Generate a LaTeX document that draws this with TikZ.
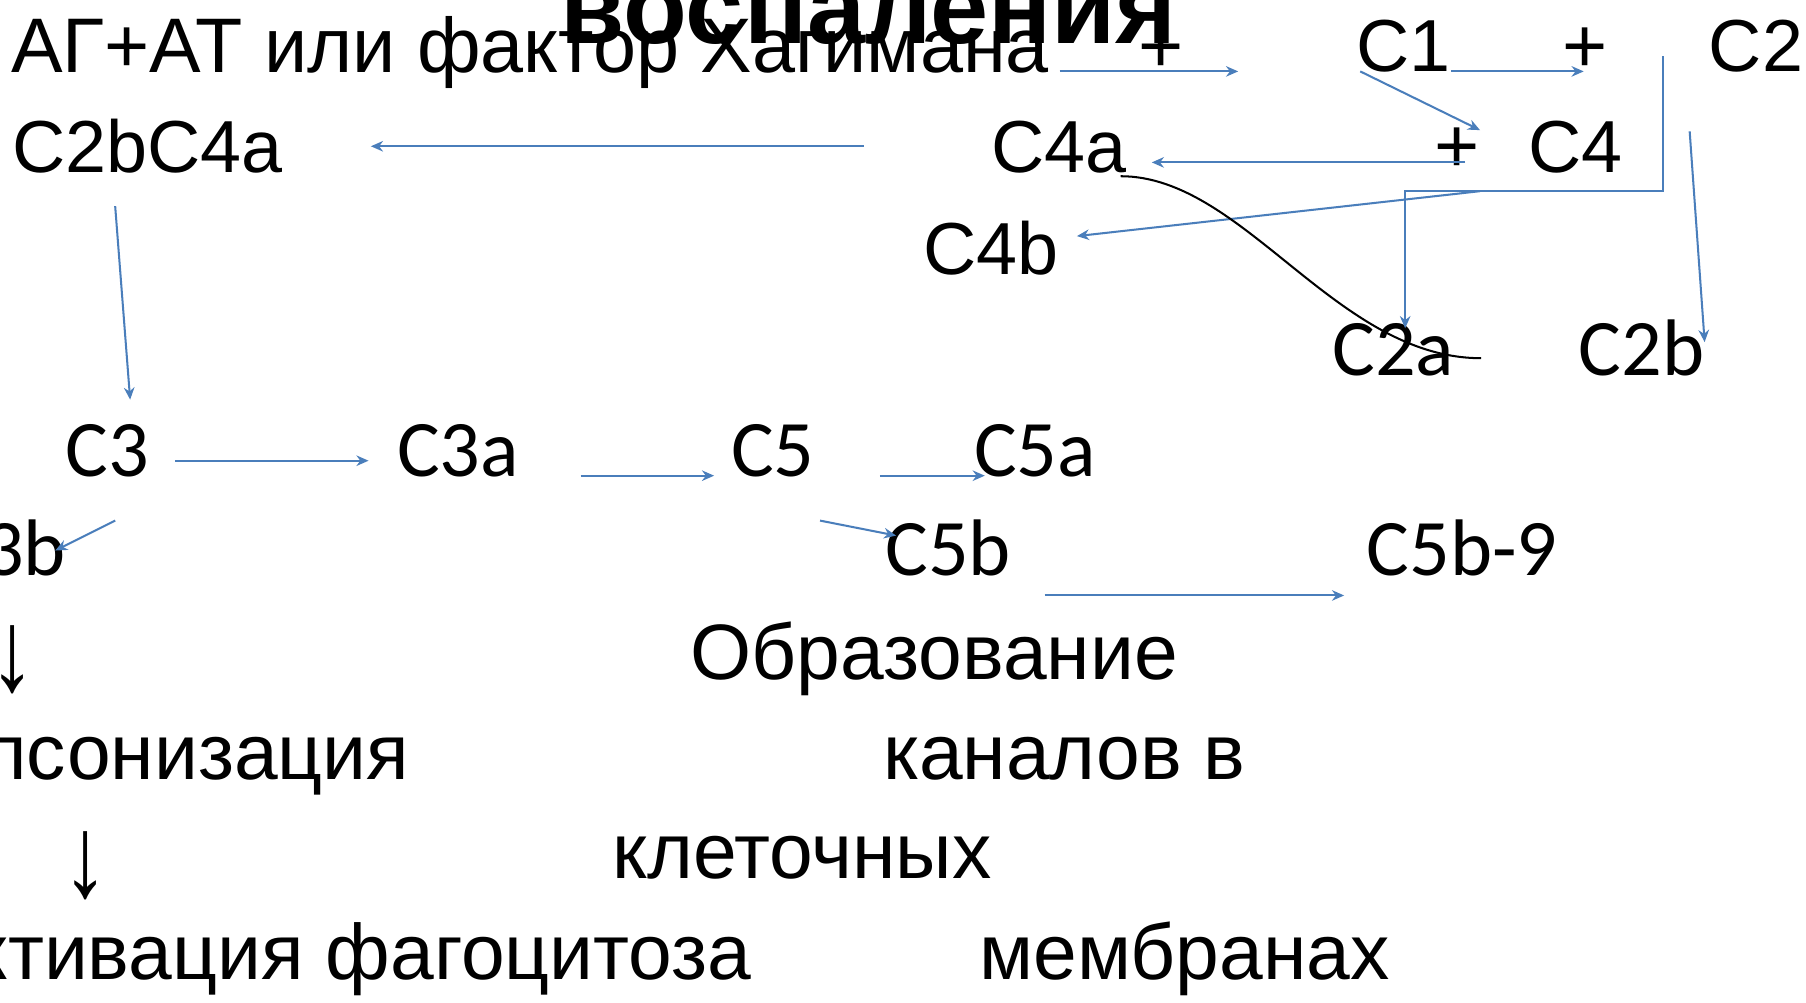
\documentclass[tikz,border=0pt]{standalone}
\usepackage{fontspec}
\usepackage{graphicx}
\setmainfont{Liberation Sans}
\newfontfamily\calfont{Carlito}
\usetikzlibrary{arrows.meta}
\definecolor{lineblue}{RGB}{74,126,187}
\tikzset{
  lbl/.style={anchor=base west, inner sep=0pt, font=\calfont\fontsize{19.8}{24}\selectfont},
  albl/.style={anchor=base west, inner sep=0pt, font=\fontsize{18.2}{22}\selectfont},
  ru/.style={anchor=base west, inner sep=0pt, font=\fontsize{19.1}{23}\selectfont},
  rub/.style={anchor=base west, inner sep=0pt, font=\fontsize{19.4}{23}\selectfont},
  downarr/.style={anchor=center, inner sep=0pt, font=\fontsize{19}{23}\selectfont},
  conn/.style={draw=lineblue, line width=0.5pt, -{Stealth[length=3pt,width=2.6pt]}},
  curveline/.style={draw=black, line width=0.5pt},
}
\newcommand{\longdown}{\scalebox{1.2}[1.5]{↓}}
\begin{document}
\begin{tikzpicture}[x=0.01cm,y=-0.01cm]
\useasboundingbox (0,0) rectangle (1568,870);
\fill[white] (0,0) rectangle (1568,870);
\clip (0,0) rectangle (1568,870);

% texts
\node[anchor=base west, inner sep=0pt, font=\bfseries\fontsize{25.8}{30}\selectfont] (title) at (486,38) {воспаления};
\node[ru] (agat) at (9,63) {АГ+АТ или фактор Хагимана};
\node[ru] (p1) at (988,63) {+};
\node[albl] (c1) at (1177,62) {C1};
\node[ru] (p2) at (1356,63) {+};
\node[albl] (c2) at (1483,62) {C2};
\node[albl] (c2bc4a) at (10,150) {C2bC4a};
\node[albl] (c4a) at (860,150) {C4a};
\node[ru] (p3) at (1245,150) {+};
\node[albl] (c4) at (1326,150) {C4};
\node[albl] (c4b) at (801,238) {C4b};
\node[lbl] (c2a) at (1156,326) {C2a};
\node[lbl] (c2b) at (1370,326) {C2b};
\node[lbl] (c3) at (56,414) {C3};
\node[lbl] (c3a) at (344,414) {C3a};
\node[lbl] (c5) at (634,414) {C5};
\node[lbl] (c5a) at (845,414) {C5a};
\node[lbl, anchor=base east] (c3b) at (58,500) {C3b};
\node[lbl] (c5b) at (768,500) {C5b};
\node[lbl] (c5b9) at (1186,500) {C5b-9};
\node[downarr] (down1) at (11,573) {\longdown};
\node[rub] (obr) at (599,590) {Образование};
\node[rub, anchor=base east] (ops) at (356,677) {Опсонизация};
\node[rub] (kan) at (766,677) {каналов в};
\node[downarr] (down2) at (74,752) {\longdown};
\node[rub] (klet) at (531,763) {клеточных};
\node[rub, anchor=base east] (akt) at (653,850) {Активация фагоцитоза};
\node[rub] (memb) at (850,850) {мембранах};

% connector end points
\coordinate (a1s) at (920,62);   \coordinate (a1e) at (1075,62);
\coordinate (a2s) at (1260,62);  \coordinate (a2e) at (1375,62);
\coordinate (a3s) at (1181,62);  \coordinate (a3e) at (1285,113);
\coordinate (a4s) at (750,127);  \coordinate (a4e) at (322,127);
\coordinate (a5s) at (1272,141); \coordinate (a5e) at (1000,141);
\coordinate (a6s) at (1444,49);  \coordinate (a6k1) at (1444,166);
\coordinate (a6k2) at (1220,166); \coordinate (a6e) at (1220,285);
\coordinate (a7s) at (1285,166); \coordinate (a7e) at (935,205);
\coordinate (a8s) at (1467,114); \coordinate (a8e) at (1480,297);
\coordinate (a9s) at (100,179);  \coordinate (a9e) at (113,347);
\coordinate (a10s) at (152,400); \coordinate (a10e) at (320,400);
\coordinate (a11s) at (504,413); \coordinate (a11e) at (620,413);
\coordinate (a12s) at (764,413); \coordinate (a12e) at (855,413);
\coordinate (a13s) at (100,452); \coordinate (a13e) at (48,478);
\coordinate (a14s) at (712,452); \coordinate (a14e) at (778,465);
\coordinate (a15s) at (907,517); \coordinate (a15e) at (1167,517);
\coordinate (cvs) at (973,153);  \coordinate (cve) at (1286,311);

% connectors
\draw[conn] (a1s) -- (a1e);
\draw[conn] (a2s) -- (a2e);
\draw[conn] (a3s) -- (a3e);
\draw[conn] (a4s) -- (a4e);
\draw[conn] (a5s) -- (a5e);
\draw[conn] (a6s) -- (a6k1) -- (a6k2) -- (a6e);
\draw[conn] (a7s) -- (a7e);
\draw[conn] (a8s) -- (a8e);
\draw[conn] (a9s) -- (a9e);
\draw[conn] (a10s) -- (a10e);
\draw[conn] (a11s) -- (a11e);
\draw[conn] (a12s) -- (a12e);
\draw[conn] (a13s) -- (a13e);
\draw[conn] (a14s) -- (a14e);
\draw[conn] (a15s) -- (a15e);
\draw[curveline] (cvs) .. controls (1080,153) and (1160,311) .. (cve);
\end{tikzpicture}
\end{document}
